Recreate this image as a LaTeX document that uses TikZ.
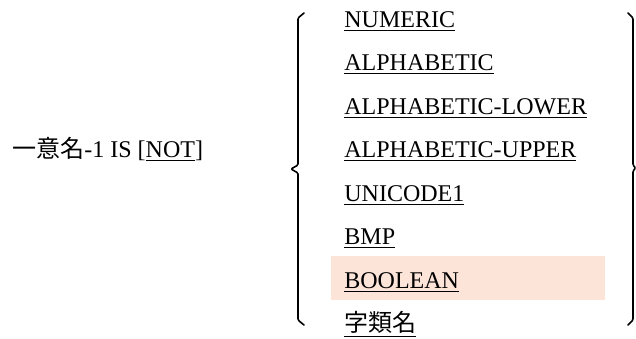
\documentclass[tikz,border=0pt]{standalone}
\usepackage{fontspec}
\setmainfont{Liberation Serif}
\newfontfamily\cjk{Noto Sans CJK JP}
\definecolor{boolbg}{HTML}{FCE4D9}
\tikzset{
  item/.style={anchor=base west,inner sep=0pt},
  bracket/.style={line width=0.8pt,rounded corners=0.6pt}
}
\begin{document}
\begin{tikzpicture}[x=0.5pt,y=-0.5pt,font=\fontsize{12pt}{14pt}\selectfont,line join=round,line cap=round]
  \useasboundingbox (0,0) rectangle (636,338);
  \fill[boolbg] (331,256) rectangle (605,300);
  \node[item] (ident) at (12,157.5) {{\cjk 一意名}-1 IS [\underline{NOT}]};
  \foreach \name/\txt [count=\i from 0] in {numeric/NUMERIC,alpha/ALPHABETIC,
      lower/ALPHABETIC-LOWER,upper/ALPHABETIC-UPPER,unicode/UNICODE1,bmp/BMP,
      boolean/BOOLEAN,clsname/{\cjk 字類名}}
    \node[item] (\name) at (344,{27+43.5*\i}) {\underline{\txt}};
  % braces
  \draw[bracket] (304,13)--(298,18)--(298,165)--(291,169)--(298,173)--(298,320)--(304,325);
  \draw[bracket] (628,13)--(633,18)--(633,165)--(635.6,168)--(633,171)--(633,320)--(628,325);
\end{tikzpicture}
\end{document}
